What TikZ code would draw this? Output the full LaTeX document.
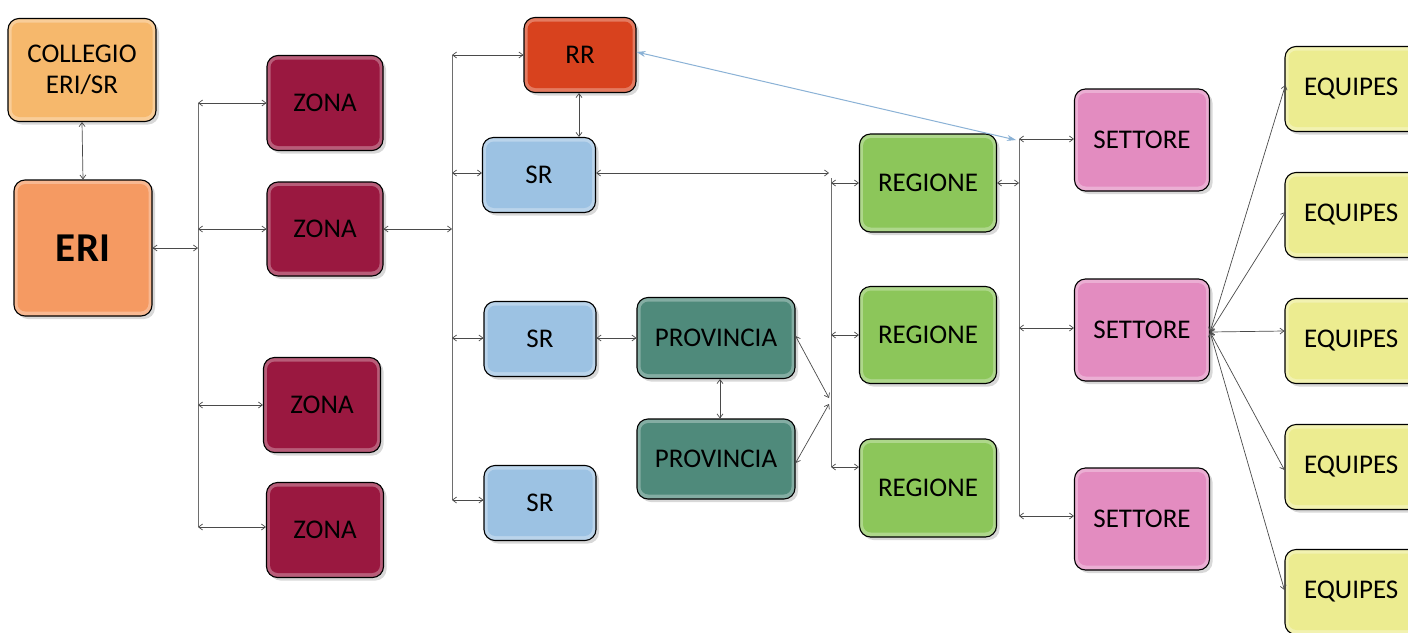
\documentclass[tikz,border=0pt]{standalone}
\usepackage{fontspec}
\setmainfont{Carlito}
\usetikzlibrary{arrows.meta,shadows}
\definecolor{cColl}{HTML}{F6B86C}
\definecolor{cEri}{HTML}{F59A62}
\definecolor{cZona}{HTML}{9A1840}
\definecolor{cRR}{HTML}{D8421E}
\definecolor{cSR}{HTML}{9CC2E3}
\definecolor{cProv}{HTML}{4F8A7B}
\definecolor{cReg}{HTML}{8CC65A}
\definecolor{cSet}{HTML}{E38CC0}
\definecolor{cEq}{HTML}{ECEC90}
\definecolor{cLine}{HTML}{4A4A4A}
\definecolor{cBlue}{HTML}{8BB2D6}
\tikzset{
  box/.style={draw=black, line width=1.1pt, rounded corners=11pt, fill=#1,
    inner sep=0pt, align=center, font=\fontsize{27}{31}\selectfont,
    drop shadow={opacity=0.3, shadow xshift=3pt, shadow yshift=-3pt},
    path picture={
      \fill[#1!70!white] (path picture bounding box.south west) rectangle (path picture bounding box.north east);
      \fill[#1, rounded corners=8pt] ([shift={(3.5pt,4.5pt)}]path picture bounding box.south west) rectangle ([shift={(-3.5pt,-4pt)}]path picture bounding box.north east);
    }},
  conn/.style={draw=cLine, line width=0.7pt, {Straight Barb[length=4pt,width=6pt]}-{Straight Barb[length=4pt,width=6pt]}},
  busline/.style={draw=cLine!80, line width=0.8pt}
}
\begin{document}
\begin{tikzpicture}[x=1pt,y=-1pt]
\useasboundingbox[fill=white] (0,0) rectangle (1408,632);
% boxes
\node[box=cColl, minimum width=148pt, minimum height=103pt] (coll) at (82,70) {COLLEGIO\\ERI/SR};
\node[box=cEri, minimum width=138pt, minimum height=136pt, font=\fontsize{41}{45}\selectfont\bfseries] (eri) at (83,248) {ERI};
\node[box=cZona, minimum width=116pt, minimum height=95pt] (z1) at (325,103) {ZONA};
\node[box=cZona, minimum width=116pt, minimum height=94pt] (z2) at (325,229) {ZONA};
\node[box=cZona, minimum width=117pt, minimum height=95pt] (z3) at (322,405) {ZONA};
\node[box=cZona, minimum width=117pt, minimum height=95pt] (z4) at (325,530) {ZONA};
\node[box=cRR, minimum width=112pt, minimum height=75pt] (rr) at (580,55) {RR};
\node[box=cSR, minimum width=113pt, minimum height=75pt] (sr1) at (539,175) {SR};
\node[box=cSR, minimum width=112pt, minimum height=75pt] (sr2) at (540,339) {SR};
\node[box=cSR, minimum width=112pt, minimum height=75pt] (sr3) at (540,503) {SR};
\node[box=cProv, minimum width=158pt, minimum height=81pt] (p1) at (716,338) {PROVINCIA};
\node[box=cProv, minimum width=158pt, minimum height=80pt] (p2) at (716,459) {PROVINCIA};
\node[box=cReg, minimum width=137pt, minimum height=98pt] (r1) at (928,183) {REGIONE};
\node[box=cReg, minimum width=137pt, minimum height=97pt] (r2) at (928,335) {REGIONE};
\node[box=cReg, minimum width=137pt, minimum height=98pt] (r3) at (928,488) {REGIONE};
\node[box=cSet, minimum width=135pt, minimum height=102pt] (s1) at (1142,140) {SETTORE};
\node[box=cSet, minimum width=135pt, minimum height=102pt] (s2) at (1142,330) {SETTORE};
\node[box=cSet, minimum width=135pt, minimum height=102pt] (s3) at (1142,519) {SETTORE};
\node[box=cEq, minimum width=140pt, minimum height=85pt, text width=126pt, align=left] (e1) at (1355,89) {\hspace*{12pt}EQUIPES};
\node[box=cEq, minimum width=140pt, minimum height=85pt, text width=126pt, align=left] (e2) at (1355,215) {\hspace*{12pt}EQUIPES};
\node[box=cEq, minimum width=140pt, minimum height=85pt, text width=126pt, align=left] (e3) at (1355,341) {\hspace*{12pt}EQUIPES};
\node[box=cEq, minimum width=140pt, minimum height=85pt, text width=126pt, align=left] (e4) at (1355,467) {\hspace*{12pt}EQUIPES};
\node[box=cEq, minimum width=140pt, minimum height=85pt, text width=126pt, align=left] (e5) at (1355,592) {\hspace*{12pt}EQUIPES};
% bus coordinates
\coordinate (b1t) at (198,103);
\coordinate (b1m) at (198,248);
\coordinate (b1z2) at (198,229);
\coordinate (b1z3) at (198,405);
\coordinate (b1b) at (198,527);
\coordinate (b2t) at (452,55);
\coordinate (b2z) at (452,229);
\coordinate (b2s1) at (452,173);
\coordinate (b2s2) at (452,338);
\coordinate (b2b) at (452,500);
\coordinate (b3in) at (829,173);
\coordinate (b3t) at (831,178);
\coordinate (b3r1) at (831,183);
\coordinate (b3r2) at (831,335);
\coordinate (b3p1) at (829,398);
\coordinate (b3p2) at (829,404);
\coordinate (b3b) at (831,467);
\coordinate (b4t) at (1019,139);
\coordinate (b4r) at (1019,183);
\coordinate (b4m) at (1019,328);
\coordinate (b4b) at (1019,516);
% buses
\draw[busline] (b1t) -- (b1b);
\draw[busline] (b2t) -- (b2b);
\draw[busline] (b3t) -- (b3b);
\draw[busline] (b4t) -- (b4b);
% connectors
\draw[conn] (coll.south) -- (eri.north);
\draw[conn] (eri.east |- b1m) -- (b1m);
\draw[conn] (b1t) -- (z1.west |- b1t);
\draw[conn] (b1z2) -- (z2.west |- b1z2);
\draw[conn] (b1z3) -- (z3.west |- b1z3);
\draw[conn] (b1b) -- (z4.west |- b1b);
\draw[conn] (z2.east |- b2z) -- (b2z);
\draw[conn] (b2t) -- (rr.west |- b2t);
\draw[conn] (b2s1) -- (sr1.west |- b2s1);
\draw[conn] (b2s2) -- (sr2.west |- b2s2);
\draw[conn] (b2b) -- (sr3.west |- b2b);
\draw[conn] ([xshift=-1pt]rr.south) -- ([xshift=-1pt]rr.south |- sr1.north);
\draw[conn] (sr1.east |- b3in) -- (b3in);
\draw[conn] (sr2.east |- b2s2) -- (p1.west |- b2s2);
\draw[conn] ([xshift=4pt]p1.south) -- ([xshift=4pt]p2.north);
\draw[conn] ([yshift=2pt]p1.east) -- (b3p1);
\draw[conn] ([yshift=-4pt]p2.east) -- (b3p2);
\draw[conn] (b3r1) -- (r1.west |- b3r1);
\draw[conn] (b3r2) -- (r2.west |- b3r2);
\draw[conn] (b3b) -- (r3.west |- b3b);
\draw[conn] (r1.east |- b4r) -- (b4r);
\draw[conn] (b4t) -- (s1.west |- b4t);
\draw[conn] (b4m) -- (s2.west |- b4m);
\draw[conn] (b4b) -- (s3.west |- b4b);
\draw[draw=cBlue, line width=1pt, {Stealth[length=9pt,width=6pt]}-{Stealth[length=9pt,width=6pt]}] ([yshift=3pt]rr.east) -- ([xshift=-3pt,yshift=-1pt]b4t);
\coordinate (sx) at ([yshift=-2pt]s2.east);
\draw[conn] (sx) -- ([xshift=1pt,yshift=4pt]e1.west);
\draw[conn] (sx) -- ([xshift=1pt,yshift=3pt]e2.west);
\draw[conn] (sx) -- ([yshift=10pt]e3.west);
\draw[conn] (sx) -- ([yshift=-3pt]e4.west);
\draw[conn] (sx) -- ([yshift=2pt]e5.west);
\end{tikzpicture}
\end{document}
